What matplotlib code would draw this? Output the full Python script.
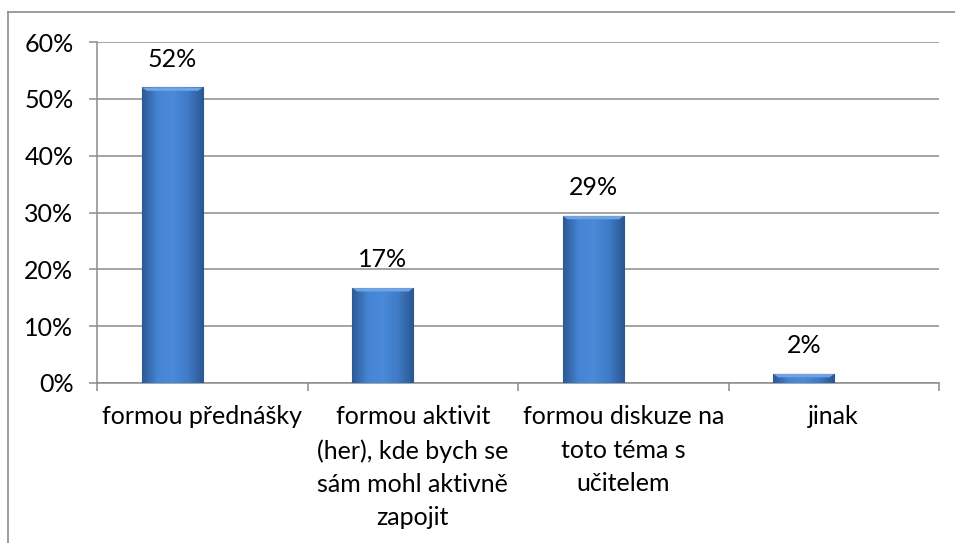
import numpy as np
import matplotlib
matplotlib.use('Agg')
import matplotlib.pyplot as plt
from matplotlib.colors import LinearSegmentedColormap

plt.rcParams['font.family'] = ['Lato', 'DejaVu Sans']

categories = ['formou přednášky',
              'formou aktivit\n(her), kde bych se\nsám mohl aktivně\nzapojit',
              'formou diskuze na\ntoto téma s\nučitelem',
              'jinak']
values = [0.52, 0.167, 0.294, 0.016]
labels = ['52%', '17%', '29%', '2%']
yticks = [0, 0.1, 0.2, 0.3, 0.4, 0.5, 0.6]

fig = plt.figure(figsize=(9.55, 5.43), dpi=100)
ax = fig.add_axes([97/955, 1 - 383/543, (939-97)/955, (383-42)/543])

x = np.arange(len(categories))
xb = x - 0.142  # bars sit left of the category centre (empty 2nd series slot)
bars = ax.bar(xb, values, width=0.29, color='#3d78c4', edgecolor='#2d5b98', linewidth=0.8, zorder=3)

# horizontal gradient inside every bar, like the office style
cmap = LinearSegmentedColormap.from_list('bar', ['#2c5a96', '#4585d3', '#4a8ad8', '#3f7bc6', '#2b5792'])
grad = np.linspace(0, 1, 64).reshape(1, -1)
for b in bars:
    x0, w, h = b.get_x(), b.get_width(), b.get_height()
    im = ax.imshow(grad, cmap=cmap, aspect='auto', extent=(x0, x0 + w, 0, h), zorder=3.5)
    im.set_clip_path(b)
    # light bevel at the top
    d = min(0.006, h * 0.4)
    ax.fill([x0, x0 + w, x0 + w * 0.92, x0 + w * 0.08], [h, h, h - d, h - d],
            color='#6fa3e3', zorder=4, lw=0)

for xi, v, t in zip(xb, values, labels):
    ax.annotate(t, (xi, v), xytext=(0, 12), textcoords='offset points',
                ha='center', va='bottom', fontsize=18)

ax.set_xlim(-0.5, len(categories) - 0.5)
ax.set_ylim(0, 0.6)
ax.set_yticks(yticks)
ax.set_yticklabels(['%d%%' % round(t * 100) for t in yticks])
ax.yaxis.grid(True, color='#8c8c8c', linewidth=1.1, zorder=0)
ax.set_axisbelow(True)

ax.set_xticks(x)
ax.set_xticklabels(categories, linespacing=1.55)
ax.set_xticks(np.arange(-0.5, len(categories)), minor=True)
ax.tick_params(axis='x', which='major', length=0, pad=16, labelsize=18)
ax.tick_params(axis='x', which='minor', length=6, color='#8c8c8c', width=1.1)
ax.tick_params(axis='y', length=6, color='#8c8c8c', width=1.1, pad=11, labelsize=18)

for s in ['top', 'right']:
    ax.spines[s].set_visible(False)
for s in ['left', 'bottom']:
    ax.spines[s].set_color('#8c8c8c')
    ax.spines[s].set_linewidth(1.1)

# outer chart border (only left and top are inside the picture)
fig.add_artist(plt.Line2D([8/955, 8/955], [0, 1 - 12/543], color='#8c8c8c', lw=1.2))
fig.add_artist(plt.Line2D([8/955, 1], [1 - 12/543, 1 - 12/543], color='#8c8c8c', lw=1.2))

fig.savefig('out.png', dpi=100, facecolor='white')
